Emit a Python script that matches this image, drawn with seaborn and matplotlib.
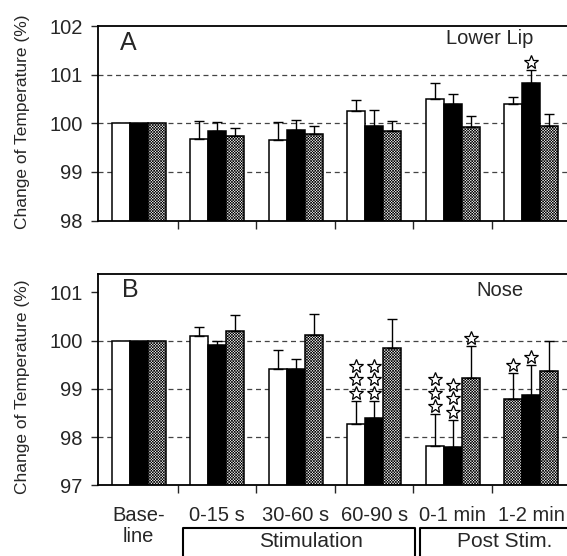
import numpy as np
import pandas as pd
import matplotlib
matplotlib.use("Agg")
import matplotlib.pyplot as plt
import matplotlib.transforms as mtransforms
import seaborn as sns

groups = ["Base-\nline", "0-15 s", "30-60 s", "60-90 s", "0-1 min", "1-2 min"]
series = ["Condition 1", "Condition 2", "Condition 3"]

# panel A, lower lip
lip_1 = [100, 99.67, 99.65, 100.26, 100.50, 100.39]
lip_1_err = [0, 0.38, 0.37, 0.21, 0.33, 0.16]
lip_2 = [100, 99.84, 99.86, 99.95, 100.39, 100.83]
lip_2_err = [0, 0.18, 0.21, 0.33, 0.22, 0.27]
lip_3 = [100, 99.73, 99.78, 99.85, 99.92, 99.95]
lip_3_err = [0, 0.17, 0.17, 0.19, 0.23, 0.24]
lip_stars_1 = [0, 0, 0, 0, 0, 0]
lip_stars_2 = [0, 0, 0, 0, 0, 1]
lip_stars_3 = [0, 0, 0, 0, 0, 0]

# panel B, nose
nose_1 = [100, 100.09, 99.41, 98.27, 97.82, 98.80]
nose_1_err = [0, 0.19, 0.40, 0.48, 0.66, 0.54]
nose_2 = [100, 99.90, 99.41, 98.39, 97.79, 98.88]
nose_2_err = [0, 0.10, 0.20, 0.36, 0.57, 0.61]
nose_3 = [100, 100.20, 100.11, 99.85, 99.22, 99.38]
nose_3_err = [0, 0.33, 0.44, 0.59, 0.67, 0.62]
nose_stars_1 = [0, 0, 0, 3, 3, 1]
nose_stars_2 = [0, 0, 0, 3, 3, 1]
nose_stars_3 = [0, 0, 0, 0, 1, 0]

sns.set_style("ticks")
plt.rcParams['font.family'] = ['Liberation Sans', 'DejaVu Sans']
plt.rcParams['hatch.linewidth'] = 0.45

fig = plt.figure(figsize=(5.67, 5.56), dpi=100)
W = 0.840
axA = fig.add_axes([0.1728, 0.6034, W, 0.3498])
axB = fig.add_axes([0.1728, 0.1268, W, 0.3804])

BAR_W = 0.69
HATCH = 'x' * 12


def draw_panel(ax, vals, errs, stars, ylim, yticks, grid_vals):
    df = pd.DataFrame({
        'group': np.tile(groups, 3),
        'series': np.repeat(series, len(groups)),
        'value': np.concatenate(vals),
    })
    sns.barplot(data=df, x='group', y='value', hue='series', order=groups,
                hue_order=series, palette=['white', 'black', 'white'],
                width=BAR_W, errorbar=None, legend=False, ax=ax,
                edgecolor='black', linewidth=1.1, saturation=1, zorder=2)
    bw = BAR_W / 3
    for p in ax.patches:
        xc = p.get_x() + p.get_width() / 2
        gi = int(round(xc))
        si = int(round((xc - gi) / bw)) + 1
        if si == 2:
            p.set_hatch(HATCH)
        v = vals[si][gi]
        e = errs[si][gi]
        if e > 0:
            ax.errorbar([xc], [v], yerr=[[0], [e]], fmt='none', ecolor='black',
                        elinewidth=1.0, capsize=3.5, capthick=1.0, zorder=3)
        for k in range(stars[si][gi]):
            off = mtransforms.ScaledTranslation(0, (8 + 13.5 * k) / 100,
                                                fig.dpi_scale_trans)
            ax.plot([xc], [v + e], marker='*', ms=10, mfc='white', mec='black',
                    mew=0.9, transform=ax.transData + off, clip_on=False,
                    zorder=4)
    for g in grid_vals:
        ax.axhline(g, color='#444444', lw=0.9, ls=(0, (4, 3)), zorder=0.5)
    ax.set_xlim(-0.52, 5.55)
    ax.set_ylim(*ylim)
    ax.set_yticks(yticks)
    ax.set_xticks(range(len(groups)))
    ax.set_xticks(np.arange(0.5, 5, 1), minor=True)
    ax.tick_params(axis='x', which='major', length=0, labelsize=14.5, pad=15)
    ax.tick_params(axis='x', which='minor', length=6, width=1.0,
                   direction='out')
    ax.tick_params(axis='y', length=5, width=1.0, direction='out',
                   labelsize=14.5, pad=6)
    ax.set_xlabel('')
    ax.set_ylabel('Change of Temperature (%)', fontsize=12.5)
    for s in ['left', 'bottom', 'top']:
        ax.spines[s].set_linewidth(1.3)
        ax.spines[s].set_color('black')
    ax.spines['right'].set_visible(False)


draw_panel(axA, [lip_1, lip_2, lip_3], [lip_1_err, lip_2_err, lip_3_err],
           [lip_stars_1, lip_stars_2, lip_stars_3], (98, 102),
           [98, 99, 100, 101, 102], [99, 100, 101])
draw_panel(axB, [nose_1, nose_2, nose_3], [nose_1_err, nose_2_err, nose_3_err],
           [nose_stars_1, nose_stars_2, nose_stars_3], (97, 101.38),
           [97, 98, 99, 100, 101], [98, 99, 100])

axA.set_xticklabels([])
# the first 1-2 min bar of the nose panel is printed stippled
for p in axB.patches:
    xc = p.get_x() + p.get_width() / 2
    if abs(xc - (5 - BAR_W / 3)) < 0.01:
        p.set_hatch(HATCH)

for lbl in axB.get_xticklabels():
    lbl.set_linespacing(1.1)

axA.yaxis.set_label_coords(-0.143, 0.506)
axB.yaxis.set_label_coords(-0.143, 0.468)

axA.text(0.046, 0.915, 'A', transform=axA.transAxes, fontsize=18,
         ha='left', va='center')
axB.text(0.050, 0.922, 'B', transform=axB.transAxes, fontsize=18,
         ha='left', va='center')
axA.text(0.8216, 0.936, 'Lower Lip', transform=axA.transAxes, fontsize=14.5,
         ha='center', va='center')
axB.text(0.8437, 0.922, 'Nose', transform=axB.transAxes, fontsize=14.5,
         ha='center', va='center')

# bracket boxes under the x labels
tr = mtransforms.blended_transform_factory(axB.transData, axB.transAxes)
box_top = -0.199
for x0, x1 in [(0.56, 3.52), (3.59, 6.2)]:
    axB.plot([x0, x0, x1, x1], [-0.6, box_top, box_top, -0.6], color='black',
             lw=1.5, transform=tr, clip_on=False)
axB.text(2.19, -0.267, 'Stimulation', transform=tr, fontsize=15,
         ha='center', va='center')
axB.text(4.66, -0.267, 'Post Stim.', transform=tr, fontsize=15,
         ha='center', va='center')

fig.savefig('out.png', dpi=100)
